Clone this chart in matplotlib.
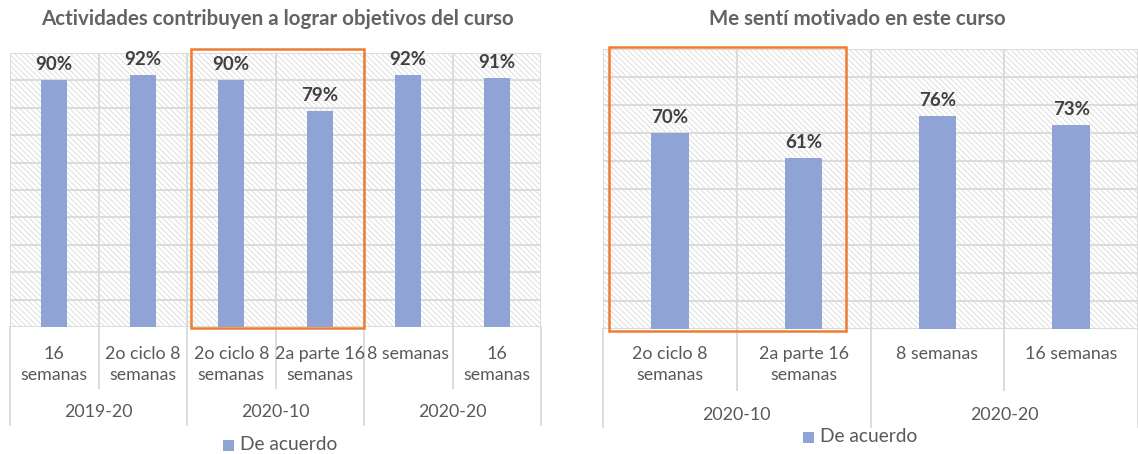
import matplotlib
matplotlib.use("Agg")
import matplotlib.pyplot as plt
from matplotlib.patches import Rectangle
from matplotlib.transforms import blended_transform_factory
from matplotlib.lines import Line2D

plt.rcParams['font.family'] = ['Lato', 'DejaVu Sans']
plt.rcParams['hatch.color'] = '#d4d4d4'
plt.rcParams['hatch.linewidth'] = 0.6

# ---------------- data ----------------
left_title = "Actividades contribuyen a lograr objetivos del curso"
left_cats = ["16\nsemanas", "2o ciclo 8\nsemanas", "2o ciclo 8\nsemanas",
             "2a parte 16\nsemanas", "8 semanas", "16\nsemanas"]
left_groups = ["2019-20", "2020-10", "2020-20"]
left_group_sizes = [2, 2, 2]
left_vals = [0.90, 0.92, 0.90, 0.79, 0.92, 0.91]
left_highlight = (2, 3)

right_title = "Me sentí motivado en este curso"
right_cats = ["2o ciclo 8\nsemanas", "2a parte 16\nsemanas", "8 semanas", "16 semanas"]
right_groups = ["2020-10", "2020-20"]
right_group_sizes = [2, 2]
right_vals = [0.70, 0.61, 0.76, 0.73]
right_highlight = (0, 1)

series_name = "De acuerdo"

BAR = '#8FA3D4'
GRID = '#d9d9d9'
TXT = '#595959'
LBL = '#404040'
ORANGE = '#ED7D31'

W, H = 1138, 454
fig = plt.figure(figsize=(W / 100, H / 100), dpi=100)


def fy(py):
    return (H - py) / H


def make(ax_px, cats, groups, sizes, vals, title, hl, box_px, ylab, title_x, tick_y, grp_y, sep_bot, grp_bot, leg_x, leg_y, bw):
    x0, y0, x1, y1 = ax_px
    ax = fig.add_axes([x0 / W, fy(y1), (x1 - x0) / W, (y1 - y0) / H])
    n = len(cats)
    ax.set_xlim(-0.5, n - 0.5)
    ax.set_ylim(0, 1)
    for s in ax.spines.values():
        s.set_visible(False)
    ax.set_xticks([])
    ax.set_yticks([])
    ax.patch.set_alpha(0)
    # hatched background
    ax.add_patch(Rectangle((-0.5, 0), n, 1, facecolor='white', edgecolor=GRID,
                           hatch='\\\\\\\\\\\\', lw=0, zorder=0))
    for k in range(11):
        ax.axhline(k / 10, color=GRID, lw=1.3, zorder=1)
    for k in range(n + 1):
        ax.axvline(k - 0.5, color=GRID, lw=1.3, zorder=1)
    xs = list(range(n))
    ax.bar(xs, vals, width=bw, color=BAR, zorder=3)
    for x, v in zip(xs, vals):
        ax.annotate(f"{v:.0%}", (x, v), xytext=(0, ylab), textcoords='offset points',
                    ha='center', va='bottom', fontsize=13.5, fontweight='bold', color=LBL, zorder=4)
    # highlight box
    bx0, by0, bx1, by1 = box_px
    fig.add_artist(Rectangle((bx0 / W, fy(by1)), (bx1 - bx0) / W, (by1 - by0) / H,
                             transform=fig.transFigure, fill=False, edgecolor=ORANGE, lw=1.8, zorder=6))
    tr = blended_transform_factory(ax.transData, fig.transFigure)
    for x, c in zip(xs, cats):
        ax.text(x, fy(tick_y), c, transform=tr, ha='center', va='top', fontsize=12.8,
                color=TXT, linespacing=1.42)
    # separators
    bounds = [-0.5]
    for s in sizes:
        bounds.append(bounds[-1] + s)
    for k in range(n + 1):
        xb = k - 0.5
        bot = grp_bot if xb in bounds else sep_bot
        ax.add_line(Line2D([xb, xb], [fy(y1), fy(bot)], transform=tr, color=GRID, lw=1.3, clip_on=False))
    for g, a, b in zip(groups, bounds[:-1], bounds[1:]):
        ax.text((a + b) / 2, fy(grp_y), g, transform=tr, ha='center', va='center', fontsize=12.8, color=TXT)
    # title
    fig.text(title_x / W, fy(19), title, ha='center', va='center', fontsize=14.8,
             fontweight='bold', color='#636363')
    # legend
    fig.add_artist(Rectangle((leg_x / W, fy(leg_y + 5.5)), 11 / W, 11 / H,
                             transform=fig.transFigure, facecolor=BAR, edgecolor='none'))
    fig.text((leg_x + 17) / W, fy(leg_y), series_name, ha='left', va='center', fontsize=13.8, color=TXT)
    return ax


make((10, 53, 541, 327), left_cats, left_groups, left_group_sizes, left_vals, left_title,
     left_highlight, (191, 49, 364, 328), 5, 277, 346, 412, 388, 425, 223, 445, 0.29)
make((603, 49, 1138, 329), right_cats, right_groups, right_group_sizes, right_vals, right_title,
     right_highlight, (609, 47, 846, 331), 5, 857, 346, 415, 390, 427, 803, 437, 0.28)

fig.savefig("out.png", dpi=100)
